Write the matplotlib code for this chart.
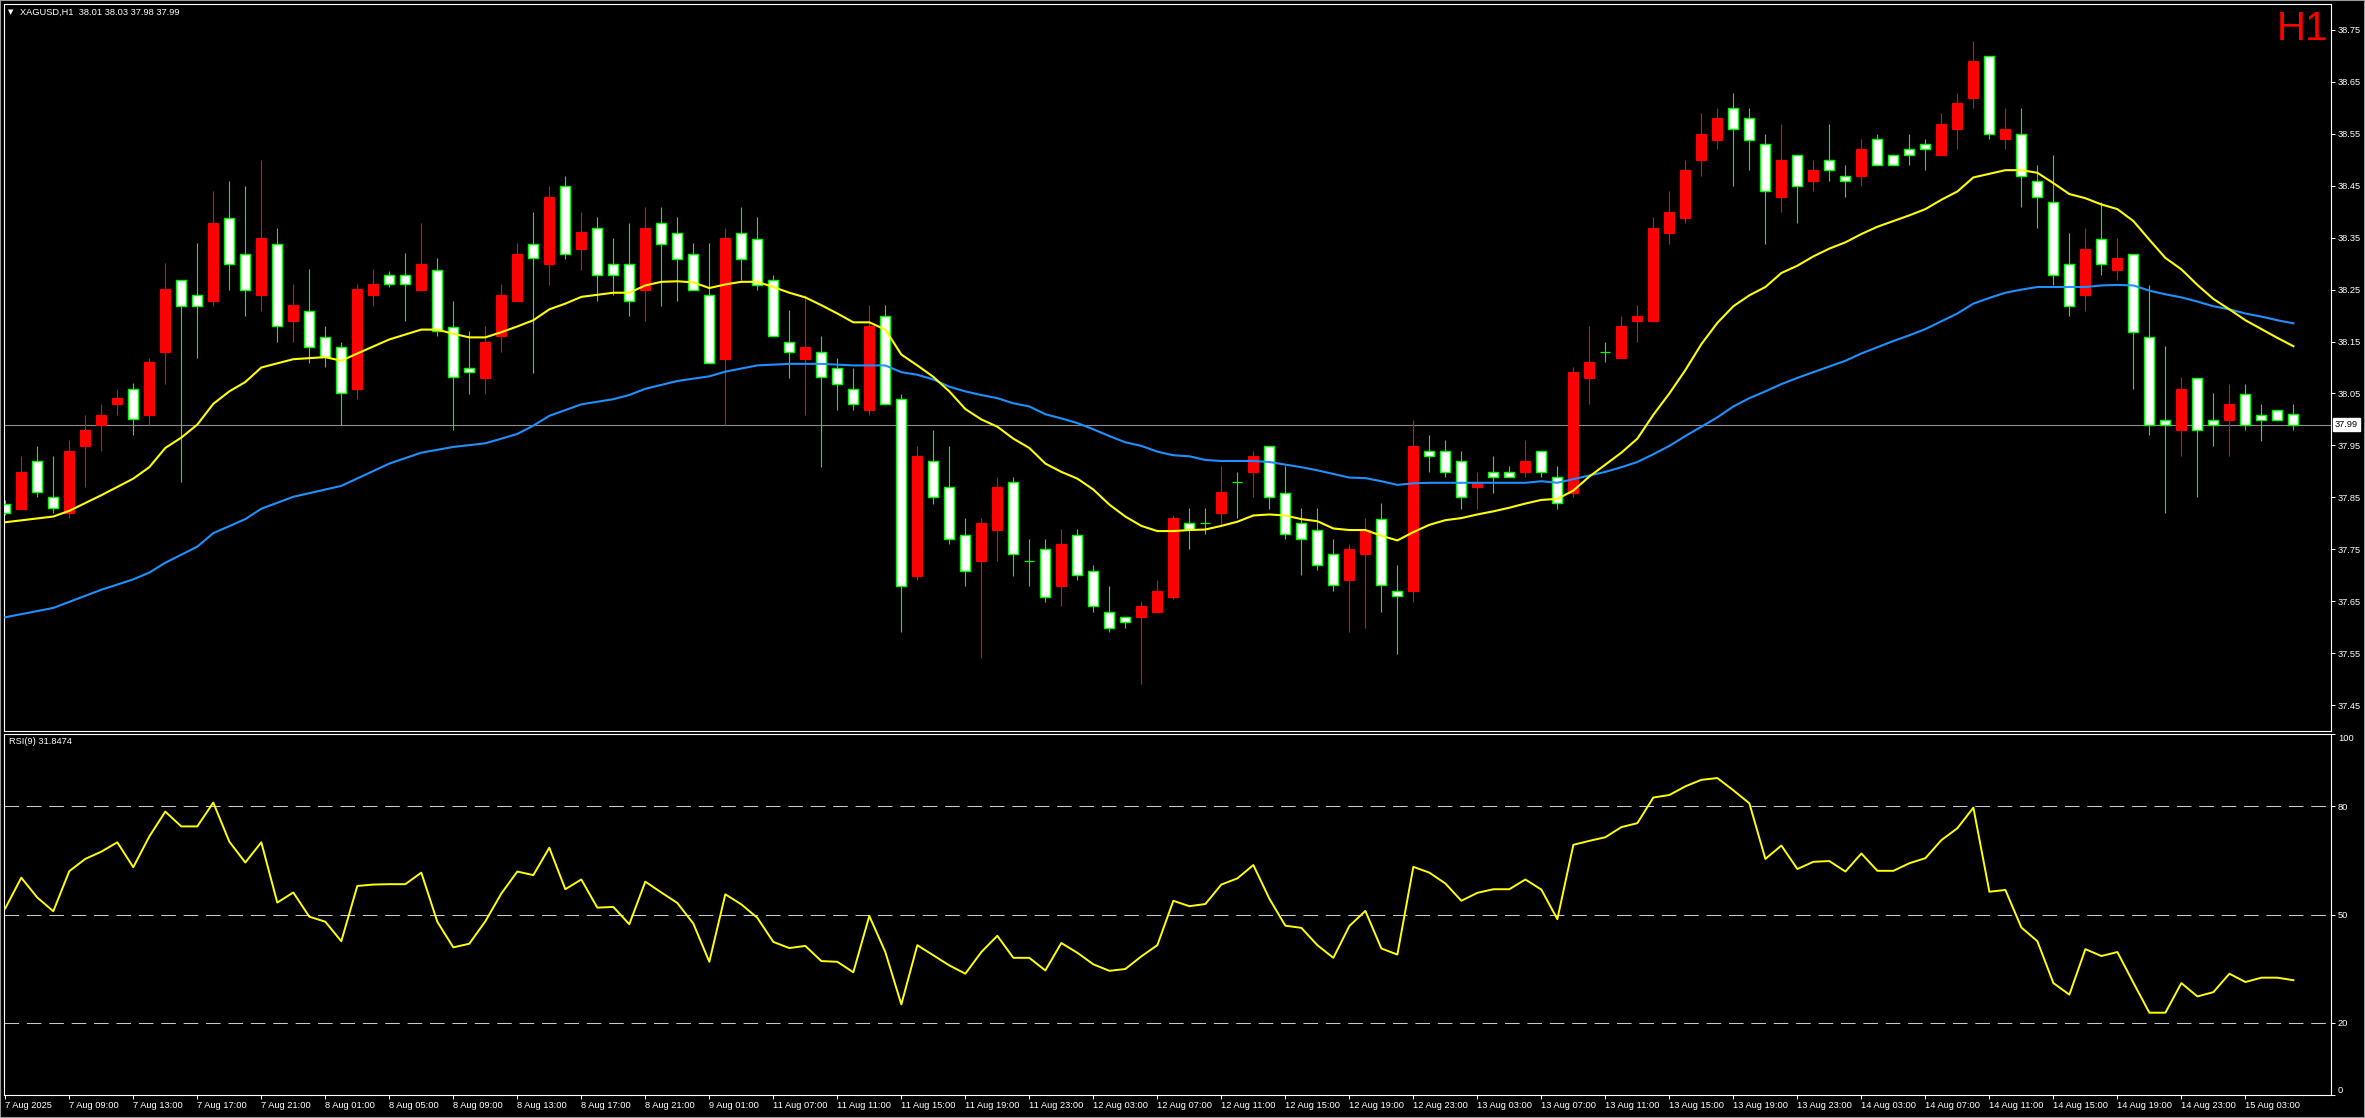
import numpy as np
import matplotlib.pyplot as plt
from matplotlib.patches import Rectangle

plt.rcParams['font.family'] = ['Liberation Sans', 'DejaVu Sans']

# XAGUSD H1 candles (bar 0 = 7 Aug 05:00)
opens = [
    37.838, 37.828, 37.919, 37.850, 37.819, 37.949, 37.989, 38.030, 38.059, 38.008, 38.130, 38.269,
    38.240, 38.228, 38.388, 38.319, 38.239, 38.338, 38.190, 38.209, 38.159, 38.140, 38.059, 38.239,
    38.278, 38.278, 38.249, 38.288, 38.178, 38.099, 38.080, 38.160, 38.228, 38.338, 38.299, 38.449,
    38.328, 38.369, 38.300, 38.300, 38.249, 38.378, 38.359, 38.319, 38.240, 38.117, 38.359, 38.347,
    38.269, 38.149, 38.117, 38.130, 38.099, 38.059, 38.019, 38.199, 38.039, 37.699, 37.919, 37.869,
    37.778, 37.728, 37.788, 37.879, 37.728, 37.750, 37.680, 37.778, 37.709, 37.630, 37.619, 37.619,
    37.629, 37.659, 37.800, 37.800, 37.819, 37.879, 37.899, 37.948, 37.859, 37.800, 37.788, 37.740,
    37.690, 37.740, 37.809, 37.669, 37.670, 37.939, 37.939, 37.919, 37.869, 37.899, 37.899, 37.899,
    37.939, 37.889, 37.859, 38.080, 38.130, 38.118, 38.190, 38.190, 38.359, 38.388, 38.499, 38.539,
    38.599, 38.580, 38.530, 38.429, 38.509, 38.459, 38.500, 38.469, 38.469, 38.540, 38.509, 38.520,
    38.530, 38.509, 38.559, 38.619, 38.699, 38.540, 38.549, 38.459, 38.419, 38.299, 38.239, 38.348,
    38.288, 38.319, 38.159, 37.999, 37.980, 38.080, 37.999, 37.999, 38.049, 38.009, 38.019, 38.010,
]
highs = [
    37.845, 37.930, 37.949, 37.930, 37.961, 38.009, 38.030, 38.059, 38.070, 38.119, 38.301, 38.269,
    38.339, 38.439, 38.459, 38.449, 38.500, 38.369, 38.260, 38.289, 38.179, 38.149, 38.260, 38.289,
    38.285, 38.320, 38.379, 38.310, 38.229, 38.170, 38.179, 38.260, 38.339, 38.399, 38.449, 38.469,
    38.399, 38.389, 38.349, 38.379, 38.410, 38.410, 38.389, 38.339, 38.339, 38.369, 38.410, 38.389,
    38.278, 38.210, 38.240, 38.160, 38.119, 38.099, 38.220, 38.220, 38.049, 37.949, 37.980, 37.949,
    37.810, 37.810, 37.889, 37.889, 37.770, 37.770, 37.789, 37.789, 37.720, 37.680, 37.619, 37.650,
    37.690, 37.815, 37.830, 37.830, 37.911, 37.899, 37.939, 37.948, 37.911, 37.830, 37.830, 37.770,
    37.760, 37.810, 37.839, 37.720, 37.999, 37.970, 37.961, 37.939, 37.899, 37.930, 37.911, 37.961,
    37.939, 37.911, 38.100, 38.179, 38.149, 38.199, 38.220, 38.389, 38.439, 38.500, 38.590, 38.600,
    38.629, 38.600, 38.550, 38.569, 38.509, 38.500, 38.569, 38.490, 38.540, 38.550, 38.509, 38.550,
    38.540, 38.590, 38.629, 38.729, 38.699, 38.600, 38.600, 38.490, 38.510, 38.359, 38.369, 38.419,
    38.349, 38.319, 38.259, 38.141, 38.081, 38.080, 38.050, 38.069, 38.069, 38.030, 38.019, 38.030,
]
lows = [
    37.815, 37.828, 37.851, 37.819, 37.810, 37.869, 37.939, 38.009, 37.970, 37.989, 38.068, 37.879,
    38.118, 38.218, 38.249, 38.199, 38.208, 38.149, 38.149, 38.109, 38.100, 37.989, 38.039, 38.218,
    38.255, 38.190, 38.249, 38.160, 37.980, 38.049, 38.049, 38.130, 38.228, 38.090, 38.259, 38.309,
    38.288, 38.229, 38.239, 38.199, 38.190, 38.218, 38.229, 38.249, 38.109, 37.989, 38.269, 38.249,
    38.160, 38.080, 38.008, 37.908, 38.019, 38.019, 38.009, 38.030, 37.590, 37.690, 37.838, 37.760,
    37.680, 37.540, 37.728, 37.699, 37.680, 37.649, 37.640, 37.690, 37.630, 37.590, 37.599, 37.490,
    37.629, 37.655, 37.750, 37.780, 37.799, 37.810, 37.850, 37.828, 37.769, 37.700, 37.710, 37.670,
    37.590, 37.599, 37.630, 37.549, 37.649, 37.899, 37.889, 37.828, 37.828, 37.859, 37.889, 37.889,
    37.889, 37.828, 37.850, 38.030, 38.110, 38.118, 38.149, 38.190, 38.338, 38.378, 38.469, 38.520,
    38.449, 38.480, 38.338, 38.399, 38.379, 38.439, 38.459, 38.429, 38.449, 38.490, 38.490, 38.490,
    38.480, 38.509, 38.520, 38.599, 38.540, 38.520, 38.409, 38.369, 38.259, 38.199, 38.209, 38.278,
    38.269, 38.059, 37.970, 37.819, 37.929, 37.850, 37.949, 37.929, 37.980, 37.959, 37.999, 37.980,
]
closes = [
    37.820, 37.899, 37.860, 37.829, 37.939, 37.980, 38.009, 38.041, 38.000, 38.110, 38.251, 38.219,
    38.219, 38.379, 38.300, 38.250, 38.349, 38.179, 38.220, 38.140, 38.120, 38.050, 38.251, 38.260,
    38.260, 38.260, 38.300, 38.170, 38.081, 38.091, 38.149, 38.240, 38.319, 38.310, 38.429, 38.319,
    38.360, 38.278, 38.278, 38.229, 38.369, 38.338, 38.309, 38.249, 38.109, 38.349, 38.309, 38.259,
    38.160, 38.130, 38.140, 38.081, 38.068, 38.030, 38.179, 38.030, 37.680, 37.930, 37.850, 37.769,
    37.709, 37.801, 37.869, 37.740, 37.728, 37.659, 37.760, 37.700, 37.640, 37.599, 37.610, 37.640,
    37.670, 37.810, 37.789, 37.800, 37.860, 37.879, 37.930, 37.850, 37.779, 37.770, 37.720, 37.681,
    37.750, 37.788, 37.681, 37.660, 37.949, 37.930, 37.899, 37.850, 37.879, 37.889, 37.889, 37.919,
    37.899, 37.839, 38.091, 38.110, 38.130, 38.179, 38.199, 38.369, 38.399, 38.480, 38.550, 38.581,
    38.559, 38.539, 38.439, 38.500, 38.449, 38.480, 38.480, 38.459, 38.520, 38.490, 38.490, 38.509,
    38.520, 38.569, 38.610, 38.691, 38.550, 38.559, 38.469, 38.429, 38.279, 38.219, 38.329, 38.299,
    38.310, 38.169, 37.989, 37.989, 38.059, 37.980, 37.989, 38.030, 37.989, 37.999, 37.999, 37.990,
]

# moving averages as drawn (bar index, value)
fast_ma_idx = [0, 3, 4, 6, 8, 9, 10, 11, 12, 13, 14, 15, 16, 18, 20, 21, 22, 24, 26, 27, 28, 29,
               30, 31, 32, 33, 34, 35, 36, 38, 39, 40, 41, 42, 43, 44, 45, 46, 47, 48, 49, 50, 51,
               52, 53, 54, 55, 56, 57, 58, 59, 60, 61, 62, 63, 64, 65, 66, 67, 68, 69, 70, 71, 72,
               73, 74, 75, 76, 77, 78, 79, 80, 81, 82, 83, 84, 85, 86, 87, 88, 89, 90, 91, 92, 93,
               94, 95, 96, 97, 98, 99, 100, 101, 102, 103, 104, 105, 106, 107, 108, 109, 110, 111,
               112, 113, 114, 115, 116, 117, 118, 119, 120, 121, 122, 123, 124, 125, 126, 127, 128,
               129, 130, 131, 132, 133, 134, 135, 136, 137, 138, 139, 140, 141, 142, 143]
fast_ma = [37.802, 37.813, 37.824, 37.854, 37.886, 37.908, 37.945, 37.965, 37.990, 38.030, 38.054,
           38.072, 38.100, 38.116, 38.120, 38.113, 38.127, 38.154, 38.173, 38.173, 38.165, 38.158,
           38.158, 38.168, 38.179, 38.191, 38.212, 38.223, 38.236, 38.244, 38.244, 38.258, 38.265,
           38.266, 38.264, 38.253, 38.260, 38.265, 38.265, 38.255, 38.244, 38.235, 38.220, 38.204,
           38.187, 38.187, 38.173, 38.125, 38.104, 38.082, 38.054, 38.020, 38.000, 37.986, 37.963,
           37.945, 37.915, 37.899, 37.886, 37.865, 37.836, 37.813, 37.795, 37.785, 37.785, 37.787,
           37.788, 37.795, 37.803, 37.815, 37.817, 37.815, 37.808, 37.804, 37.790, 37.787, 37.787,
           37.776, 37.767, 37.783, 37.797, 37.806, 37.810, 37.817, 37.823, 37.830, 37.838, 37.845,
           37.847, 37.863, 37.890, 37.913, 37.936, 37.963, 38.009, 38.050, 38.095, 38.145, 38.186,
           38.218, 38.239, 38.255, 38.282, 38.296, 38.314, 38.329, 38.341, 38.357, 38.371, 38.382,
           38.393, 38.405, 38.423, 38.439, 38.466, 38.473, 38.480, 38.480, 38.475, 38.455, 38.434,
           38.426, 38.414, 38.405, 38.382, 38.346, 38.311, 38.289, 38.259, 38.232, 38.212, 38.191,
           38.174, 38.157, 38.141]
slow_ma_idx = [0, 3, 6, 8, 9, 10, 12, 13, 15, 16, 18, 21, 24, 26, 28, 30, 32, 33, 34, 36, 38, 39,
               40, 42, 44, 45, 46, 47, 49, 51, 53, 55, 56, 57, 58, 59, 60, 61, 62, 63, 64, 65, 66,
               67, 68, 69, 70, 71, 72, 73, 74, 75, 76, 78, 79, 80, 81, 82, 83, 84, 85, 86, 87, 88,
               89, 92, 95, 96, 97, 98, 99, 100, 101, 102, 103, 104, 105, 106, 107, 108, 109, 110,
               111, 112, 113, 114, 115, 116, 117, 118, 119, 120, 121, 122, 123, 124, 125, 126, 127,
               128, 130, 131, 132, 133, 134, 135, 136, 137, 138, 139, 140, 141, 142, 143]
slow_ma = [37.619, 37.637, 37.672, 37.692, 37.705, 37.724, 37.755, 37.781, 37.808, 37.828, 37.851,
           37.872, 37.915, 37.936, 37.947, 37.954, 37.972, 37.988, 38.007, 38.029, 38.039, 38.047,
           38.059, 38.074, 38.083, 38.092, 38.098, 38.104, 38.107, 38.107, 38.104, 38.104, 38.091,
           38.086, 38.077, 38.063, 38.054, 38.047, 38.041, 38.031, 38.025, 38.010, 38.002, 37.993,
           37.981, 37.968, 37.956, 37.949, 37.938, 37.931, 37.929, 37.922, 37.920, 37.920, 37.918,
           37.913, 37.908, 37.902, 37.895, 37.888, 37.887, 37.881, 37.874, 37.877, 37.878, 37.878,
           37.878, 37.881, 37.878, 37.885, 37.892, 37.899, 37.908, 37.918, 37.933, 37.949, 37.968,
           37.986, 38.004, 38.025, 38.041, 38.054, 38.068, 38.080, 38.091, 38.102, 38.113, 38.127,
           38.139, 38.151, 38.162, 38.174, 38.189, 38.204, 38.223, 38.234, 38.244, 38.250, 38.255,
           38.255, 38.255, 38.258, 38.259, 38.258, 38.248, 38.241, 38.235, 38.227, 38.218, 38.212,
           38.204, 38.198, 38.191, 38.185]

rsi = [
    51.7, 60.2, 54.7, 50.9, 62.0, 65.4, 67.4, 70.0, 63.1, 71.6, 78.5, 74.4,
    74.4, 81.0, 70.2, 64.4, 70.0, 53.3, 56.1, 49.4, 48.0, 42.6, 57.9, 58.3,
    58.4, 58.4, 61.6, 48.0, 40.9, 41.9, 48.1, 55.8, 61.9, 60.9, 68.5, 57.0,
    59.7, 51.9, 52.1, 47.3, 59.1, 56.1, 53.2, 47.5, 36.9, 55.6, 52.8, 49.1,
    42.4, 40.7, 41.3, 37.1, 36.9, 34.0, 49.6, 39.6, 25.1, 41.5, 38.7, 35.9,
    33.6, 39.6, 44.1, 38.0, 38.0, 34.5, 42.1, 39.4, 36.2, 34.4, 34.9, 38.4,
    41.5, 53.8, 52.3, 52.9, 58.3, 60.0, 63.7, 54.4, 46.9, 46.3, 41.5, 38.0,
    46.8, 51.0, 40.6, 38.9, 63.2, 61.6, 58.6, 53.8, 56.0, 57.0, 57.0, 59.7,
    56.9, 48.7, 69.3, 70.4, 71.4, 74.2, 75.3, 82.4, 83.1, 85.5, 87.3, 87.8,
    84.4, 80.8, 65.4, 69.1, 62.6, 64.6, 64.8, 61.9, 66.9, 62.1, 62.1, 64.2,
    65.6, 70.6, 73.9, 79.6, 56.3, 56.8, 46.4, 42.6, 31.0, 27.8, 40.4, 38.5,
    39.6, 31.1, 22.8, 22.8, 31.0, 27.3, 28.5, 33.6, 31.3, 32.5, 32.5, 31.8,
]
rsi_label = 'RSI(9) 31.8474'
rsi_levels = [20, 50, 80]

time_labels = [
    '7 Aug 2025', '7 Aug 09:00', '7 Aug 13:00', '7 Aug 17:00', '7 Aug 21:00', '8 Aug 01:00',
    '8 Aug 05:00', '8 Aug 09:00', '8 Aug 13:00', '8 Aug 17:00', '8 Aug 21:00', '9 Aug 01:00',
    '11 Aug 07:00', '11 Aug 11:00', '11 Aug 15:00', '11 Aug 19:00', '11 Aug 23:00', '12 Aug 03:00',
    '12 Aug 07:00', '12 Aug 11:00', '12 Aug 15:00', '12 Aug 19:00', '12 Aug 23:00', '13 Aug 03:00',
    '13 Aug 07:00', '13 Aug 11:00', '13 Aug 15:00', '13 Aug 19:00', '13 Aug 23:00', '14 Aug 03:00',
    '14 Aug 07:00', '14 Aug 11:00', '14 Aug 15:00', '14 Aug 19:00', '14 Aug 23:00', '15 Aug 03:00',
]
price_ticks = [37.45, 37.55, 37.65, 37.75, 37.85, 37.95, 38.05, 38.15, 38.25, 38.35, 38.45,
               38.55, 38.65, 38.75]

W, H = 2365, 1118
fig = plt.figure(figsize=(W / 100, H / 100), dpi=100, facecolor='black')


def px_axes(x0, y0, x1, y1):
    # place an axes using pixel edges measured from the top-left corner
    return fig.add_axes([x0 / W, 1 - y1 / H, (x1 - x0) / W, (y1 - y0) / H])


ax = px_axes(4, 4, 2331, 731)
ax_rsi = px_axes(4, 734, 2331, 1095)

n = len(closes)
idx = np.arange(n)
for a in (ax, ax_rsi):
    a.set_facecolor('black')
    a.set_xlim(-0.08, 145.35)
    for s in a.spines.values():
        s.set_color('white')
        s.set_linewidth(0.8)
    a.yaxis.tick_right()
    a.tick_params(colors='white', labelcolor='white', labelsize=6.7,
                  length=3, width=0.7, direction='out', pad=2)

# --- price panel ---
ax.set_ylim(37.40, 38.80)
ax.set_xticks([])
ax.set_yticks(price_ticks)
ax.set_yticklabels([f'{t:.2f}' for t in price_ticks])

ax.axhline(closes[-1], color='#8c8c8c', lw=0.8, zorder=1)

body_w = 0.62
for i in range(n):
    o, h, l, c = opens[i], highs[i], lows[i], closes[i]
    if c > o:
        ax.vlines(i, l, h, color='#ff0000', lw=0.8, zorder=2)
        ax.add_patch(Rectangle((i - body_w / 2, o), body_w, c - o,
                               facecolor='#ff0000', edgecolor='#ff0000', lw=0.8, zorder=3))
    elif c < o:
        ax.vlines(i, l, h, color='#00ff00', lw=0.8, zorder=2)
        ax.add_patch(Rectangle((i - body_w / 2, c), body_w, o - c,
                               facecolor='white', edgecolor='#00ff00', lw=1.0, zorder=3))
    else:
        ax.vlines(i, l, h, color='#00ff00', lw=0.8, zorder=2)
        ax.hlines(o, i - body_w / 2, i + body_w / 2, color='#00ff00', lw=0.9, zorder=3)

ax.plot(slow_ma_idx, slow_ma, color='#1e90ff', lw=1.5, zorder=4)
ax.plot(fast_ma_idx, fast_ma, color='#ffff00', lw=1.5, zorder=5)

ax.annotate(f'{closes[-1]:.2f}', xy=(1, closes[-1]), xycoords=('axes fraction', 'data'),
            xytext=(4, 0), textcoords='offset pixels', ha='left', va='center',
            fontsize=6.7, color='black', annotation_clip=False,
            bbox=dict(boxstyle='square,pad=0.2', fc='white', ec='white'))

# --- RSI panel ---
ax_rsi.set_ylim(0, 100)
ax_rsi.plot(idx, rsi, color='#ffff00', lw=1.4, zorder=3)
for lv in rsi_levels:
    ax_rsi.axhline(lv, color='#c8c8c8', lw=0.75, ls=(0, (14, 7.5)), zorder=1)
ax_rsi.set_yticks([0, 20, 50, 80, 100])
ylabs = ax_rsi.set_yticklabels(['0', '20', '50', '80', '100'])
ylabs[0].set_va('bottom')
ylabs[-1].set_va('top')

ax_rsi.set_xticks(np.arange(0, 4 * len(time_labels), 4))
ax_rsi.set_xticklabels(time_labels, ha='left')
ax_rsi.tick_params(axis='x', length=3, pad=1.5)

# --- texts ---
fig.text(8 / W, 1 - 12 / H, '\u25bc', family='DejaVu Sans', fontsize=5, color='white', va='center')
fig.text(20 / W, 1 - 12 / H,
         f'XAGUSD,H1  {opens[-1]:.2f} {highs[-1]:.2f} {lows[-1]:.2f} {closes[-1]:.2f}',
         fontsize=6.7, color='white', va='center')
fig.text(9 / W, 1 - 742 / H, rsi_label, fontsize=6.7, color='white', va='center')
fig.text(2328 / W, 1 - 29 / H, 'H1', ha='right', va='center', color='#ff0000', fontsize=29)

fig.add_artist(Rectangle((0, 0), 1, 1, transform=fig.transFigure, fill=False,
                         edgecolor='#9a9a9a', lw=1.5))

fig.savefig('out.png', dpi=100, facecolor='black')
